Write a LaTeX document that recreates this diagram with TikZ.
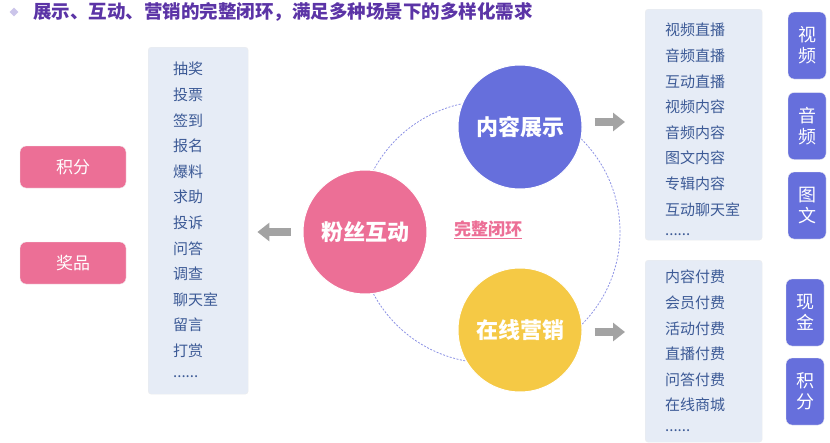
\documentclass[tikz,border=0pt]{standalone}
\usepackage{fontspec}
\setmainfont{Noto Sans CJK SC}
\usetikzlibrary{positioning, shapes.geometric, arrows.meta, calc}
\usepackage{xcolor}
\definecolor{lptitle}{HTML}{5B34A6}
\definecolor{lpdot}{HTML}{CBC5EA}
\definecolor{lpfans}{HTML}{EC6F96}
\definecolor{lpshow}{HTML}{666FDC}
\definecolor{lpsale}{HTML}{F5C945}
\definecolor{lpbg}{HTML}{E6ECF6}
\definecolor{lptext}{HTML}{3C5A96}
\definecolor{lpgray}{HTML}{A3A3A3}
\definecolor{lploop}{HTML}{8C92E4}
\newcommand{\moredots}{\raisebox{5pt}{......}}

\begin{document}
\begin{tikzpicture}[x=1pt, y=-1pt,
    listbox/.style={draw=black!7, fill=lpbg, rounded corners=3pt, text=lptext,
          align=left, anchor=north west, inner ysep=0pt,
          font=\fontsize{15}{25.6}\selectfont},
    tagbox/.style={fill=lpfans, rounded corners=6pt, text=white, draw=black!6,
          minimum width=106pt, minimum height=42pt, font=\fontsize{17}{20}\selectfont},
    sidetag/.style={fill=lpshow, rounded corners=6pt, text=white, draw=black!6,
          align=center, inner sep=0pt, minimum width=38pt, minimum height=67pt,
          font=\fontsize{18}{21}\selectfont},
    hub/.style={circle, minimum size=124pt, inner sep=0pt, text=white, draw=white,
          line width=1pt, font=\fontsize{22}{26}\selectfont\bfseries},
    flow/.style={draw=lpgray, line width=8pt, -{Triangle[length=12pt 0, width=18pt 0]}}]
    \useasboundingbox (0,0) rectangle (830,442);

    % title
    \node[diamond, fill=lpdot, minimum size=9pt, inner sep=0pt] (dot) at (14,12) {};
    \node[anchor=west, inner sep=0pt, text=lptitle, font=\fontsize{18.5}{20}\selectfont\bfseries]
          (title) at (33,12) {展示、互动、营销的完整闭环，满足多种场景下的多样化需求};

    % closed loop
    \draw[lploop, line width=0.8pt, dash pattern=on 2pt off 1.5pt] (489,232) circle[radius=131pt];
    \node[hub, fill=lpfans] (fans) at (365,232) {粉丝互动};
    \node[hub, fill=lpshow] (show) at (520,127) {内容展示};
    \node[hub, fill=lpsale] (sale) at (520,330) {在线营销};
    \node[text=lpfans, font=\fontsize{17}{20}\selectfont\bfseries] (loop) at (488,230) {\underline{完整闭环}};

    % lists
    \node[listbox, inner xsep=25pt, text width=50pt, text height=27.7pt, text depth=319.3pt] (actlist) at (148,47)
          {抽奖\\投票\\签到\\报名\\爆料\\求助\\投诉\\问答\\调查\\聊天室\\留言\\打赏\\\moredots};
    \node[listbox, inner xsep=20pt, text width=77pt, text height=26.7pt, text depth=204.3pt] (medialist) at (645,9)
          {视频直播\\音频直播\\互动直播\\视频内容\\音频内容\\图文内容\\专辑内容\\互动聊天室\\\moredots};
    \node[listbox, inner xsep=20pt, text width=77pt, text height=22.7pt, text depth=159.3pt] (paylist) at (645,260)
          {内容付费\\会员付费\\活动付费\\直播付费\\问答付费\\在线商城\\\moredots};

    % rewards
    \node[tagbox] (points) at (73,167) {积分};
    \node[tagbox] (prize) at (73,263) {奖品};

    % channels
    \node[sidetag] (video) at (807,45.5) {视\\频};
    \node[sidetag] (audio) at (807,126) {音\\频};
    \node[sidetag] (image) at (807,205.5) {图\\文};
    \node[sidetag] (cash) at (805,312.5) {现\\金};
    \node[sidetag] (score) at (805,391.5) {积\\分};

    \draw[flow, shorten <=12pt, shorten >=9pt] (fans.west) -- (fans.west -| actlist.east);
    \draw[flow, shorten <=12pt, shorten >=20pt] ([yshift=5pt]show.east) -- ([yshift=5pt]show.east -| medialist.west);
    \draw[flow, shorten <=12pt, shorten >=20pt] ([yshift=-2pt]sale.east) -- ([yshift=-2pt]sale.east -| paylist.west);
  \end{tikzpicture}
\end{document}
